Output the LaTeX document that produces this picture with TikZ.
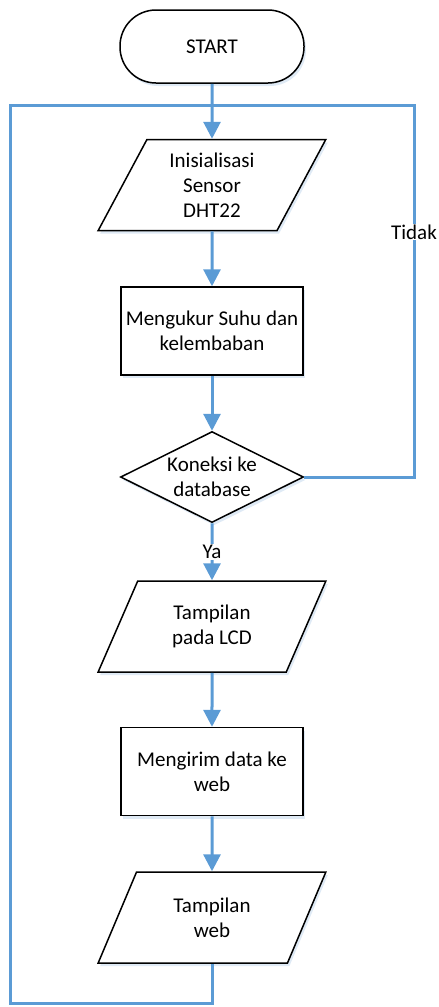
\documentclass[tikz,border=0pt]{standalone}
\usepackage{fontspec}
\setmainfont{Carlito}
\usepackage{tikz}
\usetikzlibrary{arrows.meta,positioning,calc,shapes.geometric,shadows}
\definecolor{FlowBlue}{HTML}{5B9BD5}
\definecolor{SoftShadow}{HTML}{DCE8F4}

\begin{document}
\begin{tikzpicture}[
    x=1pt,y=1pt,
    every node/.style={font=\fontsize{21}{25}\selectfont,align=center},
    box/.style={draw=black,line width=1.5pt,fill=white,
        drop shadow={shadow xshift=2pt,shadow yshift=-3pt,fill=SoftShadow,opacity=0.9}},
    terminal/.style={box,rectangle,rounded corners=36pt,minimum width=184pt,minimum height=73pt},
    process/.style={box,rectangle,inner sep=4pt,minimum width=182pt,minimum height=88pt},
    io/.style={box,trapezium,trapezium left angle=63.7,trapezium right angle=116.3,
        trapezium stretches=true,inner sep=0pt,minimum width=228pt,minimum height=91pt},
    decision/.style={box,diamond,aspect=2,inner sep=0pt,minimum width=183pt,minimum height=91pt},
    arrow/.style={-{Triangle[length=17pt,width=17pt]},line width=3pt,draw=FlowBlue},
    link/.style={line width=3pt,draw=FlowBlue}
]
\useasboundingbox (0,0) rectangle (439,-1007);

\node[terminal] (start) at (212,-46.5) {START};
\node[io,below=55pt of start] (init) {Inisialisasi\\Sensor\\DHT22};
\node[process,below=55pt of init] (measure) {Mengukur Suhu dan\\kelembaban};
\node[decision,below=55pt of measure] (conn) {Koneksi ke\\database};
\node[io,below=57pt of conn] (lcd) {Tampilan\\pada LCD};
\node[process,below=54pt of lcd] (send) {Mengirim data ke\\web};
\node[io,below=55pt of send] (web) {Tampilan\\web};

\coordinate (join) at ($(start.south)+(0,-22pt)$);

\draw[arrow] (start) -- (init);
\draw[arrow] (init) -- (measure);
\draw[arrow] (measure) -- (conn);
\draw[arrow] (conn) -- node[fill=white,inner sep=1pt] {Ya} (lcd);
\draw[arrow] (lcd) -- (send);
\draw[arrow] (send) -- (web);

% kembali ke awal
\draw[link] (conn.east) -| node[pos=0.83,fill=white,inner sep=1pt] {Tidak} ([xshift=202pt]join) -- (join);
\draw[link] (web.south) -- ++(0,-40pt) -| ([xshift=-202pt]join) -- (join);
\end{tikzpicture}
\end{document}
